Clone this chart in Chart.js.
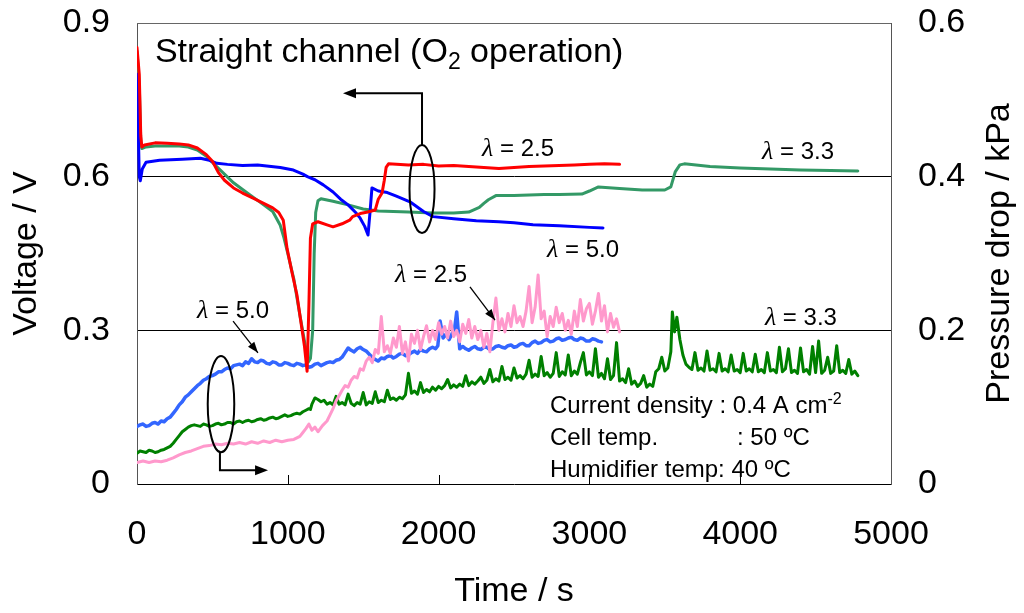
<!DOCTYPE html>
<html><head><meta charset="utf-8">
<script src="https://cdn.jsdelivr.net/npm/chart.js@4.4.0/dist/chart.umd.min.js"></script>
<style>html,body{margin:0;padding:0;background:#fff;}#wrap{width:1024px;height:613px;}</style>
</head><body><div id="wrap"><canvas id="c" width="1024" height="613"></canvas></div>
<script>
// ---------- axis ticks ----------
const timeTicks = [0, 1000, 2000, 3000, 4000, 5000];
const voltTickLabels = ['0', '0.3', '0.6', '0.9'];
const pressTickLabels = ['0', '0.2', '0.4', '0.6'];

// ---------- cell voltage [time s, V] ----------
const voltLambda25 = [[0,0.852],[15,0.80],[25,0.68],[32,0.658],[50,0.662],[120,0.666],[200,0.665],[280,0.664],[340,0.662],[400,0.656],[460,0.643],[500,0.630],[540,0.608],[580,0.593],[640,0.578],[700,0.568],[770,0.558],[840,0.548],[900,0.539],[940,0.530],[970,0.515],[995,0.460],[1030,0.410],[1060,0.370],[1085,0.320],[1110,0.270],[1128,0.220],[1140,0.350],[1150,0.480],[1165,0.508],[1200,0.512],[1260,0.506],[1300,0.502],[1360,0.508],[1410,0.515],[1430,0.522],[1480,0.528],[1530,0.531],[1580,0.535],[1600,0.556],[1625,0.568],[1640,0.593],[1652,0.618],[1668,0.625],[1800,0.623],[1900,0.624],[2000,0.621],[2100,0.622],[2200,0.620],[2300,0.618],[2400,0.616],[2500,0.618],[2600,0.620],[2700,0.621],[2800,0.622],[2900,0.623],[3000,0.624],[3100,0.625],[3200,0.624]];
const voltLambda50 = [[0,0.80],[8,0.70],[15,0.60],[22,0.592],[35,0.615],[60,0.628],[150,0.632],[300,0.634],[420,0.636],[480,0.632],[530,0.626],[600,0.624],[700,0.622],[800,0.623],[860,0.621],[950,0.618],[1037,0.613],[1100,0.605],[1130,0.600],[1180,0.594],[1235,0.584],[1300,0.570],[1350,0.556],[1400,0.545],[1450,0.530],[1480,0.519],[1510,0.503],[1532,0.486],[1545,0.530],[1558,0.578],[1600,0.572],[1660,0.569],[1720,0.562],[1810,0.551],[1900,0.532],[1963,0.522],[2100,0.518],[2250,0.514],[2400,0.512],[2500,0.510],[2626,0.506],[2800,0.504],[3000,0.501],[3090,0.500]];
const voltLambda33 = [[0,0.845],[15,0.78],[25,0.67],[32,0.655],[60,0.658],[120,0.660],[200,0.660],[280,0.660],[340,0.658],[400,0.652],[460,0.640],[520,0.622],[580,0.605],[640,0.588],[700,0.575],[770,0.560],[840,0.545],[900,0.532],[950,0.505],[975,0.480],[1000,0.450],[1040,0.400],[1080,0.330],[1110,0.280],[1135,0.238],[1150,0.245],[1165,0.300],[1175,0.450],[1185,0.530],[1200,0.553],[1220,0.557],[1300,0.552],[1400,0.545],[1500,0.537],[1600,0.533],[1700,0.532],[1800,0.531],[1960,0.529],[2100,0.529],[2200,0.531],[2270,0.540],[2300,0.548],[2330,0.555],[2380,0.563],[2500,0.563],[2600,0.564],[2700,0.565],[2800,0.565],[2950,0.566],[3000,0.572],[3060,0.580],[3200,0.577],[3350,0.574],[3500,0.574],[3540,0.580],[3570,0.610],[3600,0.623],[3630,0.625],[3800,0.620],[4000,0.617],[4200,0.615],[4400,0.613],[4600,0.612],[4780,0.611]];

// ---------- pressure drop [time s, kPa] ----------
const presLambda25 = [[0,0.028],[40,0.030],[80,0.028],[120,0.030],[160,0.029],[200,0.031],[240,0.034],[280,0.038],[320,0.041],[360,0.043],[400,0.046],[440,0.049],[480,0.050],[520,0.052],[560,0.051],[600,0.053],[640,0.052],[680,0.054],[720,0.052],[760,0.055],[800,0.053],[840,0.056],[880,0.054],[920,0.057],[960,0.055],[1000,0.057],[1040,0.058],[1080,0.062],[1100,0.067],[1120,0.072],[1140,0.078],[1160,0.070],[1180,0.074],[1200,0.068],[1230,0.076],[1260,0.082],[1280,0.090],[1300,0.098],[1320,0.108],[1340,0.115],[1360,0.122],[1380,0.128],[1400,0.126],[1420,0.135],[1440,0.140],[1460,0.138],[1480,0.150],[1500,0.148],[1520,0.160],[1540,0.165],[1560,0.158],[1580,0.175],[1600,0.170],[1620,0.218],[1640,0.172],[1660,0.180],[1680,0.170],[1700,0.190],[1720,0.178],[1740,0.205],[1760,0.170],[1780,0.185],[1800,0.160],[1820,0.195],[1840,0.183],[1860,0.200],[1880,0.175],[1900,0.192],[1920,0.206],[1940,0.185],[1960,0.200],[1980,0.188],[2000,0.210],[2020,0.195],[2040,0.205],[2060,0.190],[2080,0.212],[2100,0.192],[2120,0.200],[2140,0.185],[2160,0.208],[2180,0.196],[2200,0.214],[2220,0.190],[2240,0.205],[2260,0.188],[2280,0.200],[2300,0.178],[2320,0.196],[2340,0.172],[2360,0.210],[2380,0.242],[2400,0.200],[2420,0.215],[2440,0.198],[2460,0.222],[2480,0.205],[2500,0.232],[2520,0.210],[2540,0.218],[2560,0.205],[2580,0.225],[2600,0.257],[2620,0.210],[2640,0.230],[2660,0.272],[2680,0.215],[2700,0.225],[2720,0.192],[2740,0.218],[2760,0.205],[2780,0.230],[2800,0.210],[2820,0.222],[2840,0.200],[2860,0.213],[2880,0.195],[2900,0.225],[2920,0.205],[2940,0.240],[2960,0.212],[2980,0.228],[3000,0.235],[3020,0.208],[3040,0.225],[3060,0.248],[3080,0.212],[3100,0.232],[3120,0.198],[3140,0.222],[3160,0.204],[3180,0.215],[3200,0.198]];
const presLambda50 = [[0,0.075],[20,0.077],[40,0.078],[60,0.075],[80,0.076],[100,0.079],[120,0.080],[140,0.078],[160,0.082],[180,0.081],[200,0.085],[220,0.087],[240,0.092],[260,0.097],[280,0.103],[300,0.107],[320,0.113],[340,0.116],[360,0.120],[380,0.124],[400,0.128],[420,0.131],[440,0.135],[460,0.137],[480,0.140],[500,0.141],[520,0.143],[540,0.146],[560,0.146],[580,0.149],[600,0.151],[620,0.150],[640,0.154],[660,0.155],[680,0.156],[700,0.154],[720,0.159],[740,0.157],[760,0.163],[780,0.159],[800,0.158],[820,0.161],[840,0.160],[860,0.157],[880,0.156],[900,0.159],[920,0.158],[940,0.155],[960,0.155],[980,0.158],[1000,0.157],[1020,0.155],[1040,0.154],[1060,0.157],[1080,0.156],[1100,0.154],[1120,0.155],[1140,0.152],[1160,0.153],[1180,0.156],[1200,0.157],[1220,0.154],[1240,0.156],[1260,0.158],[1280,0.159],[1300,0.158],[1320,0.161],[1340,0.162],[1360,0.165],[1380,0.171],[1400,0.177],[1420,0.174],[1440,0.172],[1460,0.176],[1480,0.178],[1500,0.175],[1520,0.173],[1540,0.169],[1560,0.165],[1580,0.162],[1600,0.160],[1620,0.164],[1640,0.163],[1660,0.166],[1680,0.167],[1700,0.164],[1720,0.166],[1740,0.169],[1760,0.170],[1780,0.167],[1800,0.168],[1820,0.171],[1840,0.173],[1860,0.170],[1880,0.175],[1900,0.173],[1920,0.172],[1940,0.176],[1960,0.178],[1980,0.176],[1995,0.180],[2010,0.212],[2030,0.190],[2050,0.195],[2070,0.188],[2090,0.196],[2105,0.200],[2120,0.224],[2140,0.176],[2160,0.179],[2180,0.176],[2200,0.174],[2220,0.177],[2240,0.179],[2260,0.176],[2280,0.175],[2300,0.178],[2320,0.178],[2340,0.175],[2360,0.176],[2380,0.179],[2400,0.180],[2420,0.178],[2440,0.177],[2460,0.180],[2480,0.181],[2500,0.178],[2520,0.179],[2540,0.182],[2560,0.183],[2580,0.180],[2600,0.180],[2620,0.184],[2640,0.186],[2660,0.183],[2680,0.184],[2700,0.187],[2720,0.188],[2740,0.185],[2760,0.186],[2780,0.189],[2800,0.190],[2820,0.187],[2840,0.188],[2860,0.190],[2880,0.191],[2900,0.188],[2920,0.187],[2940,0.190],[2960,0.189],[2980,0.186],[3000,0.186],[3020,0.189],[3040,0.188],[3060,0.186],[3080,0.185]];
const presLambda33 = [[0,0.040],[20,0.043],[40,0.042],[60,0.041],[80,0.044],[100,0.043],[120,0.041],[140,0.042],[160,0.044],[180,0.045],[200,0.047],[220,0.049],[240,0.053],[260,0.058],[280,0.063],[300,0.068],[320,0.071],[340,0.074],[360,0.076],[380,0.077],[400,0.076],[420,0.075],[440,0.078],[460,0.077],[480,0.075],[500,0.076],[520,0.078],[540,0.079],[560,0.077],[580,0.078],[600,0.080],[620,0.080],[640,0.078],[660,0.081],[680,0.082],[700,0.080],[720,0.082],[740,0.083],[760,0.081],[780,0.082],[800,0.084],[820,0.085],[840,0.083],[860,0.084],[880,0.086],[900,0.087],[920,0.085],[940,0.086],[960,0.088],[980,0.090],[1000,0.088],[1020,0.089],[1040,0.091],[1060,0.092],[1080,0.091],[1100,0.094],[1120,0.096],[1140,0.098],[1150,0.097],[1160,0.104],[1180,0.112],[1200,0.110],[1220,0.107],[1240,0.109],[1260,0.104],[1280,0.106],[1300,0.103],[1320,0.114],[1340,0.104],[1360,0.106],[1380,0.103],[1400,0.117],[1420,0.105],[1440,0.102],[1460,0.106],[1480,0.104],[1500,0.119],[1520,0.103],[1540,0.107],[1560,0.105],[1580,0.120],[1600,0.106],[1620,0.109],[1640,0.107],[1660,0.122],[1680,0.110],[1700,0.112],[1720,0.109],[1740,0.113],[1760,0.111],[1780,0.116],[1800,0.144],[1820,0.118],[1840,0.121],[1860,0.117],[1880,0.132],[1900,0.119],[1920,0.123],[1940,0.120],[1960,0.126],[1980,0.122],[2000,0.127],[2020,0.124],[2040,0.128],[2060,0.136],[2080,0.125],[2100,0.129],[2120,0.126],[2140,0.130],[2160,0.127],[2180,0.141],[2200,0.128],[2220,0.133],[2240,0.130],[2260,0.134],[2280,0.139],[2300,0.131],[2320,0.135],[2340,0.149],[2360,0.133],[2380,0.137],[2400,0.134],[2420,0.153],[2440,0.136],[2460,0.139],[2480,0.135],[2500,0.151],[2520,0.138],[2540,0.141],[2560,0.137],[2580,0.143],[2600,0.161],[2620,0.139],[2640,0.143],[2660,0.140],[2680,0.166],[2700,0.141],[2720,0.145],[2740,0.139],[2760,0.144],[2780,0.171],[2800,0.140],[2820,0.146],[2840,0.142],[2860,0.168],[2880,0.141],[2900,0.147],[2920,0.143],[2940,0.158],[2960,0.171],[2980,0.142],[3000,0.146],[3020,0.141],[3040,0.176],[3060,0.139],[3080,0.144],[3100,0.137],[3120,0.163],[3140,0.136],[3160,0.141],[3180,0.184],[3200,0.134],[3220,0.137],[3240,0.132],[3260,0.150],[3280,0.130],[3300,0.134],[3320,0.127],[3340,0.131],[3360,0.141],[3380,0.126],[3400,0.130],[3420,0.127],[3440,0.146],[3460,0.150],[3480,0.165],[3500,0.147],[3520,0.151],[3540,0.172],[3550,0.224],[3565,0.198],[3580,0.217],[3600,0.188],[3620,0.168],[3640,0.156],[3660,0.152],[3680,0.149],[3700,0.171],[3720,0.148],[3740,0.151],[3760,0.147],[3780,0.173],[3800,0.148],[3820,0.150],[3840,0.146],[3860,0.170],[3880,0.147],[3900,0.150],[3920,0.146],[3940,0.168],[3960,0.147],[3980,0.149],[4000,0.145],[4020,0.170],[4040,0.147],[4060,0.150],[4080,0.146],[4100,0.169],[4120,0.146],[4140,0.149],[4160,0.145],[4180,0.171],[4200,0.147],[4220,0.149],[4240,0.145],[4260,0.178],[4280,0.146],[4300,0.150],[4320,0.176],[4340,0.145],[4360,0.148],[4380,0.144],[4400,0.177],[4420,0.146],[4440,0.149],[4460,0.143],[4480,0.179],[4500,0.145],[4520,0.186],[4540,0.144],[4560,0.148],[4580,0.165],[4600,0.144],[4620,0.147],[4640,0.180],[4660,0.145],[4680,0.148],[4700,0.144],[4720,0.162],[4740,0.143],[4760,0.147],[4780,0.141]];

const SANS = '"Liberation Sans", Arial, sans-serif';
const SERIF = '"Liberation Serif", "Times New Roman", serif';
const toXY = arr => arr.map(p => ({x: p[0], y: p[1]}));
const near = (a, b) => Math.abs(a - b) < 1e-6;

function ds(data, color, axis, width) {
  return {data: toXY(data), borderColor: color, backgroundColor: color, yAxisID: axis,
          borderWidth: width, pointRadius: 0, fill: false, tension: 0,
          borderJoinStyle: 'round', borderCapStyle: 'round'};
}

const annot = {
  id: 'annot',
  afterDatasetsDraw(chart) {
    const {ctx, chartArea: a, scales} = chart;
    const X = t => scales.x.getPixelForValue(t);
    const Y = v => scales.y.getPixelForValue(v);
    ctx.save();
    // top frame line
    ctx.strokeStyle = '#666'; ctx.lineWidth = 1;
    ctx.beginPath(); ctx.moveTo(a.left, Math.round(a.top) + 0.5); ctx.lineTo(a.right, Math.round(a.top) + 0.5); ctx.stroke();
    // inward x tick marks
    ctx.strokeStyle = '#000';
    timeTicks.forEach(t => {
      if (t === timeTicks[0] || t === timeTicks[timeTicks.length - 1]) return;
      const x = Math.round(X(t)) + 0.5;
      ctx.beginPath(); ctx.moveTo(x, a.bottom); ctx.lineTo(x, a.bottom - 9); ctx.stroke();
    });
    ctx.fillStyle = '#000';
    ctx.textBaseline = 'alphabetic'; ctx.textAlign = 'left';
    // right axis title, reading upward
    ctx.save();
    ctx.translate(1000, (a.top + a.bottom) / 2);
    ctx.rotate(-Math.PI / 2);
    ctx.font = '34px ' + SANS; ctx.textAlign = 'center'; ctx.textBaseline = 'middle';
    ctx.fillText('Pressure drop / kPa', 0, 0);
    ctx.restore();
    // title with subscript
    let x0 = X(119), yb = Y(0.824);
    ctx.font = '34px ' + SANS;
    ctx.fillText('Straight channel (O', x0, yb); x0 += ctx.measureText('Straight channel (O').width;
    ctx.font = '23px ' + SANS;
    ctx.fillText('2', x0, yb + 7); x0 += ctx.measureText('2').width;
    ctx.font = '34px ' + SANS;
    ctx.fillText(' operation)', x0, yb);
    // lambda labels
    function lam(t, v, val) {
      let x = X(t); const y = Y(v);
      ctx.font = 'italic 26px ' + SERIF;
      ctx.fillText('\u03bb', x, y); x += ctx.measureText('\u03bb').width;
      ctx.font = '24px ' + SANS;
      ctx.fillText(' = ' + val, x, y);
    }
    lam(2288, 0.640, '2.5');
    lam(4145, 0.6345, '3.3');
    lam(2719, 0.443, '5.0');
    lam(398, 0.324, '5.0');
    lam(1711, 0.394, '2.5');
    lam(4164, 0.310, '3.3');
    // arrows
    function head(x1, y1, x2, y2, len, wid) {
      const ang = Math.atan2(y2 - y1, x2 - x1);
      ctx.beginPath();
      ctx.moveTo(x2, y2);
      ctx.lineTo(x2 - len * Math.cos(ang) + wid / 2 * Math.sin(ang), y2 - len * Math.sin(ang) - wid / 2 * Math.cos(ang));
      ctx.lineTo(x2 - len * Math.cos(ang) - wid / 2 * Math.sin(ang), y2 - len * Math.sin(ang) + wid / 2 * Math.cos(ang));
      ctx.closePath(); ctx.fill();
    }
    ctx.strokeStyle = '#000'; ctx.lineWidth = 1.3;
    [[637, 0.318, 802, 0.256], [2208, 0.385, 2374, 0.320]].forEach(s => {
      const x1 = X(s[0]), y1 = Y(s[1]), x2 = X(s[2]), y2 = Y(s[3]);
      ctx.beginPath(); ctx.moveTo(x1, y1); ctx.lineTo(x2, y2); ctx.stroke();
      head(x1, y1, x2, y2, 11, 8);
    });
    // ellipses + elbow arrows
    ctx.lineWidth = 2;
    function ell(t, v, rt, rv) {
      ctx.beginPath();
      ctx.ellipse(X(t), Y(v), Math.abs(X(t + rt) - X(t)), Math.abs(Y(v + rv) - Y(v)), 0, 0, Math.PI * 2);
      ctx.stroke();
    }
    ell(1890, 0.576, 83, 0.086);
    ctx.beginPath(); ctx.moveTo(X(1890), Y(0.662)); ctx.lineTo(X(1890), Y(0.763)); ctx.lineTo(X(1410), Y(0.763)); ctx.stroke();
    head(X(1890), Y(0.763), X(1366), Y(0.763), 13, 10);
    ell(557, 0.156, 88, 0.094);
    ctx.beginPath(); ctx.moveTo(X(550), Y(0.062)); ctx.lineTo(X(550), Y(0.027)); ctx.lineTo(X(830), Y(0.027)); ctx.stroke();
    head(X(550), Y(0.027), X(869), Y(0.027), 13, 10);
    // conditions
    ctx.font = '24px ' + SANS;
    let cx = X(2739);
    ctx.fillText('Current density : 0.4 A cm', cx, Y(0.1386));
    const w1 = ctx.measureText('Current density : 0.4 A cm').width;
    ctx.font = '16px ' + SANS;
    ctx.fillText('-2', cx + w1, Y(0.1386) - 9);
    ctx.font = '24px ' + SANS;
    ctx.fillText('Cell temp.', cx, Y(0.0761));
    ctx.fillText(': 50 \u00baC', X(3979), Y(0.0761));
    ctx.fillText('Humidifier temp: 40 \u00baC', cx, Y(0.0137));
    ctx.restore();
  }
};

const tickFont = {family: SANS, size: 34};
const titleFont = {family: SANS, size: 34, lineHeight: 1};
const noPad = s => { s.paddingTop = 0; s.paddingBottom = 0; s.paddingLeft = 0; s.paddingRight = 0; };

new Chart(document.getElementById('c'), {
  type: 'line',
  data: {
    datasets: [
      ds(voltLambda25, '#ff0000', 'y', 3),
      ds(voltLambda50, '#0000ff', 'y', 3),
      ds(voltLambda33, '#339966', 'y', 3),
      ds(presLambda25, '#ff99cc', 'y2', 3),
      ds(presLambda50, '#3366ff', 'y2', 3.5),
      ds(presLambda33, '#008000', 'y2', 3)
    ]
  },
  options: {
    responsive: false, animation: false, devicePixelRatio: 1,
    layout: {padding: {top: 23, left: 0, right: 0, bottom: 0}},
    plugins: {legend: {display: false}, tooltip: {enabled: false}},
    scales: {
      x: {
        type: 'linear', min: timeTicks[0], max: timeTicks[timeTicks.length - 1],
        afterBuildTicks: s => { s.ticks = timeTicks.map(v => ({value: v})); },
        ticks: {callback: v => String(v), font: tickFont, color: '#000', padding: 30, maxRotation: 0, autoSkip: false},
        grid: {display: false, drawTicks: false},
        border: {display: true, color: '#000', width: 1},
        title: {display: true, text: 'Time / s', font: titleFont, color: '#000', padding: {top: 0, bottom: 4}},
        afterFit: s => { s.height = 129; noPad(s); }
      },
      y: {
        position: 'left', min: 0, max: 0.9,
        afterBuildTicks: s => { s.ticks = voltTickLabels.map(v => ({value: parseFloat(v)})); },
        ticks: {callback: v => voltTickLabels.find(l => near(parseFloat(l), v)), font: tickFont, color: '#000', padding: 27},
        grid: {drawTicks: false, lineWidth: 1,
               color: c => (c.tick && (near(c.tick.value, 0.3) || near(c.tick.value, 0.6))) ? '#000' : 'rgba(0,0,0,0)'},
        border: {display: true, color: '#555', width: 1},
        title: {display: true, text: 'Voltage / V', font: titleFont, color: '#000', padding: {top: 10, bottom: 0}},
        afterFit: s => { s.width = 137; noPad(s); }
      },
      y2: {
        position: 'right', min: 0, max: 0.6,
        afterBuildTicks: s => { s.ticks = pressTickLabels.map(v => ({value: parseFloat(v)})); },
        ticks: {callback: v => pressTickLabels.find(l => near(parseFloat(l), v)), font: tickFont, color: '#000', padding: 27},
        grid: {display: false, drawTicks: false},
        border: {display: true, color: '#555', width: 1},
        title: {display: false},
        afterFit: s => { s.width = 133; noPad(s); }
      }
    }
  },
  plugins: [annot]
});
</script>
</body></html>
